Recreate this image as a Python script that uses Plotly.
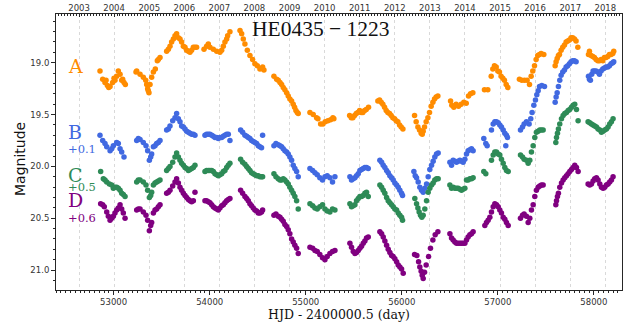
import plotly.graph_objects as go

# ---------------- data (HJD - 2400000.5, plotted magnitudes incl. offsets) -------------
hjd_A = [52858,52886,52910,52921,52935,52949,52963,52990,53004,53014,53032,53049,53067,53084,53094,53108,53122,
         53233,53240,53275,53309,53334,53344,53354,53361,53368,53379,53396,53414,53434,53455,53466,53483,
         53552,53570,53587,53604,53622,53639,53656,53674,53691,53708,53726,53743,53760,53778,53795,53812,53830,53847,53864,
         53941,53968,53986,54003,54038,54073,54107,54125,54142,54159,54177,54187,54211,
         54316,54333,54350,54367,54392,54419,54447,54471,54496,54523,54551,54565,
         54669,54697,54714,54732,54749,54766,54783,54801,54818,54835,54853,54870,54884,54898,54912,54922,
         55044,55078,55113,55127,55155,55179,55203,55231,55259,55283,55293,
         55457,55474,55491,55509,55526,55543,55561,55578,55595,55613,55630,55654,
         55751,55769,55786,55803,55821,55838,55855,55873,55890,55907,55925,55942,55959,55977,55994,56012,
         56133,56150,56168,56185,56202,56213,56223,56237,56254,56272,56289,56306,56324,56341,56358,56376,
         56508,56521,56542,56566,56591,56618,56646,56671,56695,56716,56740,
         56861,56896,56931,56948,56965,56983,57000,57017,57034,57052,57069,57087,57104,
         57225,57250,57278,57305,57330,57347,57364,57382,57399,57416,57434,57451,57479,
         57597,57607,57618,57631,57642,57659,57676,57694,57711,57728,57746,57763,57780,57798,57815,57833,
         57944,57954,57971,57989,58006,58023,58041,58058,58075,58093,58110,58127,58145,58162,58179,58197,58207]
mag_A = [19.08,19.16,19.19,19.17,19.22,19.24,19.23,19.19,19.15,19.17,19.13,19.08,19.11,19.17,19.16,19.19,19.21,
         19.09,19.08,19.11,19.14,19.17,19.21,19.25,19.27,19.29,19.21,19.14,19.09,19.06,18.98,18.97,18.95,
         18.89,18.87,18.84,18.80,18.77,18.74,18.72,18.76,18.77,18.80,18.84,18.85,18.88,18.89,18.90,18.88,18.85,18.85,18.85,
         18.87,18.84,18.82,18.85,18.87,18.89,18.90,18.88,18.84,18.80,18.77,18.74,18.70,
         18.69,18.72,18.77,18.82,18.88,18.93,18.97,19.01,19.03,19.06,19.04,19.07,
         19.13,19.16,19.17,19.19,19.21,19.24,19.26,19.29,19.32,19.35,19.37,19.40,19.43,19.46,19.48,19.49,
         19.48,19.50,19.53,19.54,19.59,19.59,19.57,19.56,19.55,19.53,19.54,
         19.51,19.53,19.53,19.51,19.49,19.48,19.46,19.48,19.48,19.46,19.45,19.43,
         19.37,19.36,19.38,19.40,19.43,19.46,19.48,19.49,19.51,19.53,19.54,19.56,19.57,19.60,19.62,19.64,
         19.51,19.57,19.62,19.65,19.68,19.69,19.66,19.62,19.57,19.53,19.48,19.42,19.38,19.35,19.33,19.32,
         19.37,19.41,19.43,19.40,19.42,19.40,19.38,19.39,19.32,19.30,19.29,
         19.26,19.26,19.13,19.06,19.03,19.04,19.08,19.09,19.13,19.15,19.17,19.21,19.24,
         19.16,19.17,19.17,19.17,19.21,19.13,19.08,19.03,18.97,18.93,18.92,18.91,18.92,
         19.03,18.99,18.96,18.93,18.92,18.88,18.85,18.83,18.80,18.79,18.78,18.76,18.76,18.77,18.79,18.85,
         18.92,18.89,18.93,18.94,18.95,18.97,18.98,18.98,18.97,18.98,18.95,18.95,18.94,18.92,18.92,18.91,18.89]

hjd_B = [52858,52886,52910,52928,52963,52980,52997,53032,53049,53067,53084,53108,
         53240,53257,53275,53309,53337,53354,53372,53386,53396,53414,53431,53448,53466,53483,
         53552,53570,53587,53615,53639,53656,53674,53691,53708,53726,53743,53760,53778,53795,53812,53830,53847,
         53951,53968,53986,54003,54021,54038,54055,54073,54090,54107,54125,54142,54159,54177,54194,54211,
         54322,54343,54367,54385,54402,54419,54436,54454,54471,54489,54506,54523,54540,54551,
         54669,54690,54714,54732,54749,54766,54783,54801,54818,54835,54853,54870,54887,54905,54922,
         55044,55072,55096,55120,55147,55175,55200,55224,55252,55279,55304,
         55460,55477,55495,55512,55529,55547,55564,55581,55599,55616,55633,55651,
         55772,55790,55807,55824,55842,55859,55876,55894,55911,55928,55946,55963,55980,55998,56008,
         56126,56140,56154,56171,56188,56206,56223,56240,56258,56275,56292,56310,56327,56344,56362,56379,
         56501,56518,56535,56553,56570,56587,56605,56622,56639,56657,56674,56691,56709,56726,56743,
         56854,56875,56889,56934,56952,56969,56986,57004,57021,57038,57056,57073,57083,57090,57101,
         57236,57257,57274,57298,57326,57343,57357,57375,57392,57406,57420,57434,57458,57486,
         57597,57607,57618,57631,57645,57659,57676,57694,57711,57728,57746,57763,57780,57798,57815,
         57944,57954,57964,57978,57992,58006,58023,58041,58058,58075,58093,58110,58127,58145,58162,58179,58197,58207]
mag_B = [19.70,19.75,19.78,19.81,19.85,19.83,19.80,19.77,19.78,19.83,19.86,19.91,
         19.75,19.73,19.74,19.77,19.80,19.85,19.94,19.91,19.88,19.81,19.80,19.78,19.77,19.75,
         19.65,19.64,19.61,19.56,19.53,19.49,19.54,19.57,19.61,19.62,19.64,19.66,19.67,19.68,19.69,19.69,19.70,
         19.70,19.69,19.69,19.69,19.70,19.71,19.72,19.72,19.73,19.72,19.72,19.71,19.70,19.69,19.69,19.75,
         19.65,19.67,19.70,19.71,19.72,19.73,19.75,19.76,19.77,19.78,19.80,19.81,19.82,19.70,
         19.80,19.78,19.79,19.80,19.81,19.83,19.85,19.86,19.88,19.91,19.94,19.99,20.02,20.05,20.10,
         20.02,20.04,20.06,20.08,20.11,20.13,20.10,20.09,20.11,20.15,20.10,
         20.10,20.13,20.12,20.11,20.09,20.07,20.04,20.03,20.02,20.01,20.01,20.02,
         19.94,19.96,19.99,20.01,20.04,20.06,20.09,20.11,20.13,20.16,20.18,20.20,20.23,20.26,20.28,
         20.05,20.09,20.11,20.15,20.20,20.23,20.25,20.21,20.17,20.10,20.03,19.99,19.95,19.91,19.88,19.87,
         19.96,19.99,19.94,19.95,19.96,19.95,19.94,19.95,19.96,19.93,19.88,19.85,19.84,19.83,19.85,
         19.73,19.78,19.80,19.65,19.59,19.57,19.57,19.58,19.60,19.62,19.65,19.68,19.80,19.70,19.72,
         19.65,19.62,19.59,19.57,19.59,19.54,19.48,19.41,19.36,19.31,19.27,19.23,19.22,19.23,
         19.38,19.33,19.29,19.23,19.17,19.12,19.09,19.07,19.04,19.03,19.01,18.99,18.98,18.98,18.99,
         19.13,19.16,19.17,19.11,19.08,19.08,19.08,19.09,19.11,19.08,19.06,19.05,19.04,19.04,19.03,19.01,19.00,18.99]

hjd_C = [52865,52893,52910,52928,52956,52980,52997,53014,53032,53049,53067,53084,53101,53119,
         53240,53257,53275,53309,53337,53354,53372,53386,53396,53414,53431,53448,53466,53483,
         53552,53570,53587,53615,53639,53656,53674,53691,53708,53726,53743,53760,53778,53795,53812,53830,53847,
         53951,53968,53986,54003,54021,54038,54055,54073,54090,54107,54125,54142,54159,54177,54194,54211,
         54322,54343,54367,54385,54402,54419,54436,54454,54471,54489,54506,54523,54540,54551,
         54669,54690,54714,54732,54749,54766,54783,54801,54818,54835,54853,54870,54887,54905,54922,
         55044,55072,55096,55120,55147,55175,55200,55224,55252,55279,55304,
         55460,55477,55495,55512,55529,55547,55564,55581,55599,55616,55633,55651,
         55772,55790,55807,55824,55842,55859,55876,55894,55911,55928,55946,55963,55980,55998,56008,
         56136,56154,56168,56181,56195,56209,56223,56240,56258,56275,56292,56310,56327,56344,56362,56379,
         56501,56518,56535,56553,56570,56587,56605,56622,56639,56657,56674,56691,56709,56726,56743,
         56854,56875,56934,56952,56969,56986,57004,57021,57038,57056,57073,57090,57108,
         57236,57257,57274,57298,57316,57333,57350,57368,57385,57402,57420,57437,57454,57472,
         57604,57611,57621,57631,57645,57663,57680,57697,57715,57732,57749,57767,57784,57801,57819,57836,
         57940,57957,57975,57992,58009,58027,58044,58062,58079,58096,58113,58131,58148,58165,58183,58200]
mag_C = [20.05,20.12,20.13,20.15,20.17,20.18,20.21,20.20,20.20,20.21,20.23,20.26,20.27,20.29,
         20.15,20.13,20.13,20.15,20.18,20.23,20.30,20.28,20.25,20.18,20.16,20.15,20.14,20.13,
         20.04,20.02,20.00,19.96,19.91,19.87,19.91,19.94,19.97,19.99,20.01,20.02,20.04,20.03,20.02,20.01,19.99,
         20.05,20.04,20.04,20.04,20.04,20.05,20.07,20.08,20.09,20.08,20.07,20.05,20.04,20.01,19.99,19.97,
         19.93,19.96,19.98,20.00,20.02,20.04,20.06,20.07,20.08,20.09,20.09,20.10,20.10,20.10,
         20.07,20.10,20.12,20.13,20.13,20.12,20.13,20.15,20.17,20.20,20.23,20.26,20.29,20.33,20.41,
         20.36,20.38,20.40,20.41,20.39,20.37,20.41,20.43,20.44,20.41,20.42,
         20.36,20.39,20.38,20.37,20.33,20.31,20.29,20.29,20.28,20.26,20.25,20.29,
         20.18,20.20,20.23,20.26,20.30,20.33,20.35,20.37,20.39,20.41,20.42,20.45,20.47,20.49,20.52,
         20.31,20.36,20.40,20.44,20.47,20.49,20.47,20.41,20.33,20.25,20.21,20.18,20.16,20.13,20.12,20.12,
         20.18,20.21,20.20,20.21,20.21,20.21,20.22,20.23,20.22,20.21,20.13,20.13,20.12,20.12,20.11,
         20.05,20.07,19.94,19.89,19.86,19.86,19.88,19.89,19.93,19.97,20.01,20.04,20.05,
         19.89,19.91,19.93,19.94,19.97,19.94,19.86,19.80,19.72,19.67,19.66,19.65,19.65,19.65,
         19.77,19.72,19.68,19.64,19.59,19.54,19.51,19.49,19.48,19.46,19.45,19.43,19.41,19.40,19.45,19.56,
         19.57,19.58,19.59,19.60,19.61,19.62,19.64,19.65,19.67,19.66,19.65,19.64,19.62,19.59,19.57,19.54]

hjd_D = [52865,52886,52903,52928,52945,52963,52980,52997,53014,53032,53049,53067,53084,53101,53119,
         53240,53257,53275,53309,53337,53354,53372,53386,53396,53414,53431,53448,53466,53483,
         53552,53570,53587,53615,53639,53656,53674,53691,53708,53726,53743,53760,53778,53795,53812,53830,53847,
         53951,53968,53986,54003,54021,54038,54055,54073,54090,54107,54125,54142,54159,54177,54194,54211,
         54322,54343,54367,54385,54402,54419,54436,54454,54471,54489,54506,54523,54540,54551,
         54669,54690,54714,54732,54749,54766,54783,54801,54818,54835,54853,54870,54887,54905,54922,
         55044,55072,55096,55120,55147,55175,55200,55224,55252,55279,55304,
         55460,55477,55495,55512,55529,55547,55564,55581,55599,55616,55633,55651,
         55772,55790,55807,55824,55842,55859,55876,55894,55911,55928,55946,55963,55980,55998,56015,
         56133,56157,56175,56188,56202,56213,56223,56237,56254,56279,56299,56324,56348,56376,
         56501,56518,56535,56553,56570,56587,56605,56622,56639,56657,56674,56691,56709,56726,56743,
         56865,56882,56899,56917,56934,56952,56969,56986,57004,57021,57038,57056,57073,57090,57108,
         57236,57257,57274,57298,57316,57333,57350,57368,57385,57402,57420,57437,57454,57472,
         57604,57611,57621,57631,57645,57663,57680,57697,57715,57732,57749,57767,57784,57801,57819,57836,
         57940,57957,57975,57992,58009,58027,58044,58062,58079,58096,58113,58131,58148,58165,58183,58200]
mag_D = [20.36,20.37,20.39,20.44,20.48,20.52,20.50,20.48,20.45,20.42,20.40,20.37,20.41,20.45,20.50,
         20.42,20.41,20.41,20.44,20.47,20.52,20.62,20.57,20.54,20.45,20.42,20.41,20.39,20.37,
         20.26,20.25,20.23,20.19,20.15,20.12,20.16,20.20,20.23,20.26,20.28,20.30,20.32,20.33,20.34,20.33,20.25,
         20.33,20.33,20.34,20.35,20.37,20.39,20.40,20.41,20.42,20.40,20.38,20.37,20.35,20.33,20.32,20.31,
         20.23,20.26,20.29,20.31,20.33,20.36,20.38,20.40,20.42,20.43,20.45,20.45,20.44,20.42,
         20.47,20.46,20.48,20.49,20.51,20.53,20.56,20.58,20.61,20.65,20.70,20.73,20.76,20.79,20.84,
         20.78,20.79,20.81,20.82,20.85,20.88,20.90,20.87,20.84,20.82,20.81,
         20.74,20.78,20.82,20.84,20.83,20.81,20.79,20.77,20.74,20.72,20.69,20.68,
         20.63,20.65,20.68,20.72,20.76,20.80,20.83,20.86,20.87,20.89,20.92,20.95,20.97,20.99,21.03,
         20.85,20.86,20.92,20.97,21.01,21.05,21.08,21.02,20.95,20.87,20.79,20.71,20.66,20.63,
         20.65,20.69,20.71,20.73,20.74,20.74,20.74,20.74,20.74,20.74,20.71,20.68,20.66,20.65,20.63,
         20.57,20.54,20.52,20.49,20.44,20.39,20.36,20.37,20.39,20.42,20.45,20.49,20.51,20.54,20.57,
         20.50,20.47,20.46,20.48,20.54,20.50,20.42,20.37,20.29,20.23,20.20,20.19,20.18,20.18,
         20.37,20.33,20.29,20.26,20.20,20.16,20.13,20.11,20.09,20.07,20.05,20.03,20.01,19.99,20.01,20.05,
         20.17,20.18,20.17,20.14,20.12,20.11,20.13,20.17,20.20,20.21,20.20,20.18,20.17,20.15,20.13,20.10]

image_names = ["A", "B", "C", "D"]
offset_labels = ["", "+0.1", "+0.5", "+0.6"]
colors = ["#ff8c00", "#4169e1", "#2e8b57", "#800080"]

year_labels = [str(y) for y in range(2003, 2019)]
year_mjd = [52640, 53005, 53371, 53736, 54101, 54466, 54832, 55197,
            55562, 55927, 56293, 56658, 57023, 57388, 57754, 58119]

title_text = "HE0435 \u2212 1223"
xlabel = "HJD - 2400000.5 (day)"
ylabel = "Magnitude"

for h, m in [(hjd_A, mag_A), (hjd_B, mag_B), (hjd_C, mag_C), (hjd_D, mag_D)]:
    assert len(h) == len(m), (len(h), len(m))

# ---------------- figure -------------
XR = [52400, 58293]
YR = [21.192, 18.530]

fig = go.Figure()
for name, h, m, c in zip(image_names, [hjd_A, hjd_B, hjd_C, hjd_D],
                         [mag_A, mag_B, mag_C, mag_D], colors):
    fig.add_trace(go.Scatter(x=h, y=m, mode="markers", name=name,
                             marker=dict(color=c, size=5.5, line=dict(width=0)),
                             hoverinfo="x+y", showlegend=False))

# invisible trace so the top (year) axis is rendered
fig.add_trace(go.Scatter(x=year_mjd, y=[None] * len(year_mjd), xaxis="x2",
                         mode="markers", showlegend=False, hoverinfo="skip"))

axcol = "#262626"
fig.update_layout(
    width=638, height=332,
    margin=dict(l=56, r=16, t=14, b=42, autoexpand=False),
    paper_bgcolor="white", plot_bgcolor="white",
    font=dict(family="DejaVu Sans", size=8.5, color="#333333"),
    showlegend=False,
    xaxis=dict(range=XR, tickmode="linear", tick0=53000, dtick=1000, tickformat="d",
               ticks="outside", ticklen=4, tickwidth=1, tickcolor=axcol,
               showline=True, linecolor=axcol, linewidth=1, mirror=True,
               showgrid=False, zeroline=False, automargin=False,
               minor=dict(ticks="outside", ticklen=2, tickcolor=axcol,
                          tick0=53000, dtick=50, showgrid=False)),
    xaxis2=dict(range=XR, overlaying="x", side="top", anchor="y",
                tickmode="array", tickvals=year_mjd, ticktext=year_labels,
                ticks="inside", ticklen=3, tickcolor=axcol,
                showline=False, zeroline=False, automargin=False,
                showgrid=True, gridcolor="#d9d9d9", griddash="dot", gridwidth=1,
                minor=dict(ticks="inside", ticklen=2, tickcolor=axcol,
                           tick0=52640, dtick=30.4375, showgrid=False)),
    yaxis=dict(range=YR, tickmode="linear", tick0=19.0, dtick=0.5,
               tickformat=".1f", ticks="outside", ticklen=4, tickcolor=axcol,
               showline=True, linecolor=axcol, linewidth=1, mirror=True,
               showgrid=False, zeroline=False, automargin=False,
               minor=dict(ticks="outside", ticklen=2, tickcolor=axcol,
                          tick0=19.0, dtick=0.1, showgrid=False)),
)

L, R, T, B = 56, 622, 14, 290
def px(x):
    return (x - L) / (R - L)
def py(y):
    return 1 - (y - T) / (B - T)

ann = []
ann.append(dict(text=title_text, x=px(321), y=py(29), xref="paper", yref="paper",
                showarrow=False, xanchor="center", yanchor="middle",
                font=dict(family="Liberation Serif", size=21.5, color="#111111")))
letter_y = [66, 132, 175, 200]
off_y = [None, 149, 187, 218]
for name, off, c, ly, oy in zip(image_names, offset_labels, colors, letter_y, off_y):
    ann.append(dict(text=name, x=px(66), y=py(ly), xref="paper", yref="paper",
                    showarrow=False, xanchor="left", yanchor="middle",
                    font=dict(family="DejaVu Serif", size=19, color=c)))
    if off:
        ann.append(dict(text=off, x=px(66), y=py(oy), xref="paper", yref="paper",
                        showarrow=False, xanchor="left", yanchor="middle",
                        font=dict(family="DejaVu Serif", size=11.5, color=c)))
ann.append(dict(text=ylabel, x=px(20), y=py(159), xref="paper", yref="paper",
                showarrow=False, xanchor="center", yanchor="middle", textangle=-90,
                font=dict(family="DejaVu Sans", size=14, color="#111111")))
ann.append(dict(text=xlabel, x=px(339), y=py(314), xref="paper", yref="paper",
                showarrow=False, xanchor="center", yanchor="middle",
                font=dict(family="DejaVu Serif", size=12.5, color="#111111")))
fig.update_layout(annotations=ann)

fig.write_html("out.html",
               config={"displayModeBar": False},
               post_script="document.body.style.margin='0';document.body.style.overflow='hidden';")
